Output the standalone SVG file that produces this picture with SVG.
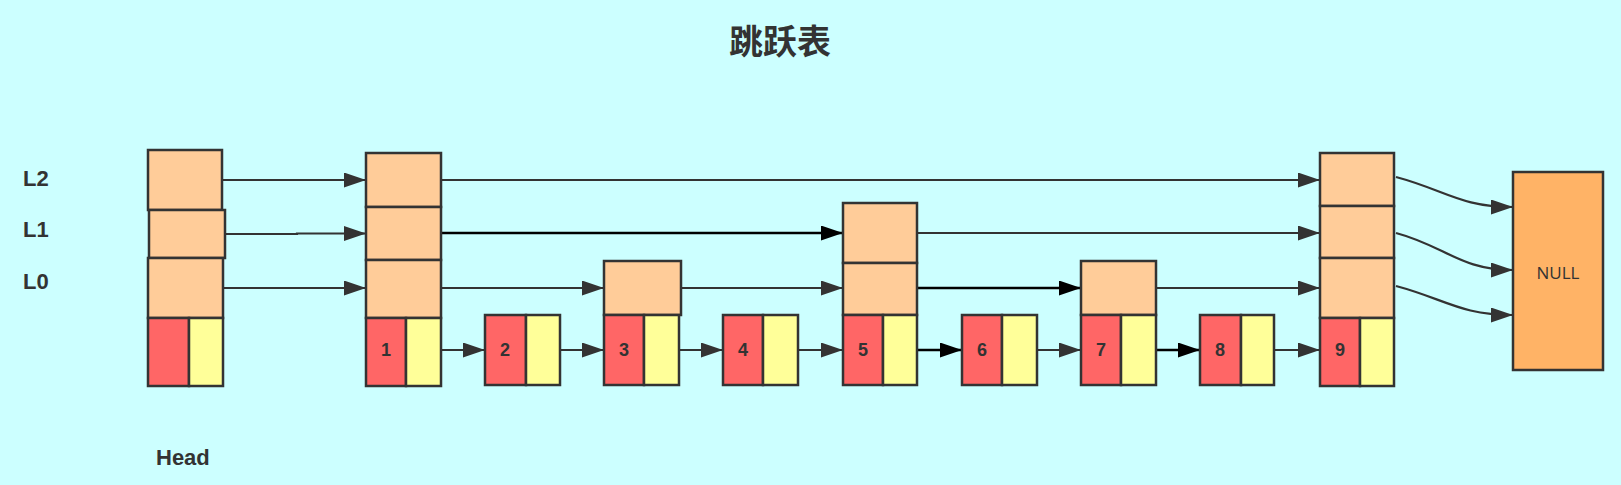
<svg xmlns="http://www.w3.org/2000/svg" width="1621" height="485" viewBox="0 0 1621 485">
<defs>
<style>
.lv{fill:#FFCC99;stroke:#333;stroke-width:2.5}
.k{fill:#FF6666;stroke:#333;stroke-width:2.5}
.v{fill:#FFFF99;stroke:#333;stroke-width:2.5}
.nul{fill:#FFB366;stroke:#333;stroke-width:2.5}
.num{font-family:"Liberation Sans",Arial,sans-serif;font-weight:bold;font-size:18px;fill:#333;text-anchor:middle}
.lbl{font-family:"Liberation Sans",Arial,sans-serif;font-weight:bold;font-size:22px;fill:#333}
.e{fill:none;stroke:#333;stroke-width:2.2;marker-end:url(#ag)}
.eb{fill:none;stroke:#000;stroke-width:2.4;marker-end:url(#ab)}
</style>
<marker id="ag" markerUnits="userSpaceOnUse" markerWidth="22" markerHeight="16" refX="22" refY="7.5" orient="auto">
<path d="M0,0 L22,7.5 L0,15 z" fill="#333"/>
</marker>
<marker id="ab" markerUnits="userSpaceOnUse" markerWidth="22" markerHeight="16" refX="22" refY="7.5" orient="auto">
<path d="M0,0 L22,7.5 L0,15 z" fill="#000"/>
</marker>
</defs>
<rect x="0" y="0" width="1621" height="485" fill="#CCFFFF"/>
<text x="780" y="54" font-family="'Noto Sans CJK SC',sans-serif" font-weight="bold" font-size="34" fill="#333" text-anchor="middle">跳跃表</text>
<g id="labels">
<text class="lbl" x="23" y="186">L2</text>
<text class="lbl" x="23" y="237">L1</text>
<text class="lbl" x="23" y="289">L0</text>
<text class="lbl" x="156" y="465">Head</text>
</g>
<g id="edges">
<path class="e" d="M222,180 H366"/>
<path class="e" d="M441,180 H1320"/>
<path class="e" d="M225,234 H297 V233.5 H366"/>
<path class="eb" d="M441,233 H843"/>
<path class="e" d="M917,233 H1320"/>
<path class="e" d="M223,288 H366"/>
<path class="e" d="M441,288 H604"/>
<path class="e" d="M681,288 H843"/>
<path class="eb" d="M917,288 H1081"/>
<path class="e" d="M1156,288 H1320"/>
<path class="e" d="M441,350 H485"/>
<path class="e" d="M560,350 H604"/>
<path class="e" d="M679,350 H723"/>
<path class="e" d="M798,350 H843"/>
<path class="eb" d="M917,350 H962"/>
<path class="e" d="M1037,350 H1081"/>
<path class="eb" d="M1156,350 H1200"/>
<path class="e" d="M1274,350 H1320"/>
<path class="e" d="M1396,177 C1445,190 1460,207 1513,207"/>
<path class="e" d="M1396,233 C1445,246 1460,270 1513,270"/>
<path class="e" d="M1396,286 C1445,299 1460,315 1513,315"/>
</g>
<g id="head">
<rect class="lv" x="148" y="150" width="74" height="60"/>
<rect class="lv" x="149" y="210" width="76" height="48"/>
<rect class="lv" x="148" y="258" width="75" height="60"/>
<rect class="k" x="148" y="318" width="41" height="68"/>
<rect class="v" x="189" y="318" width="34" height="68"/>
</g>
<g id="node1">
<rect class="lv" x="366" y="153" width="75" height="54"/>
<rect class="lv" x="366" y="207" width="75" height="53"/>
<rect class="lv" x="366" y="260" width="75" height="58"/>
<rect class="k" x="366" y="318" width="40" height="68"/>
<rect class="v" x="406" y="318" width="35" height="68"/>
<text class="num" x="386" y="356">1</text>
</g>
<g id="node2">
<rect class="k" x="485" y="315" width="41" height="70"/>
<rect class="v" x="526" y="315" width="34" height="70"/>
<text class="num" x="505" y="356">2</text>
</g>
<g id="node3">
<rect class="lv" x="604" y="261" width="77" height="54"/>
<rect class="k" x="604" y="315" width="40" height="70"/>
<rect class="v" x="644" y="315" width="35" height="70"/>
<text class="num" x="624" y="356">3</text>
</g>
<g id="node4">
<rect class="k" x="723" y="315" width="40" height="70"/>
<rect class="v" x="763" y="315" width="35" height="70"/>
<text class="num" x="743" y="356">4</text>
</g>
<g id="node5">
<rect class="lv" x="843" y="203" width="74" height="60"/>
<rect class="lv" x="843" y="263" width="74" height="52"/>
<rect class="k" x="843" y="315" width="40" height="70"/>
<rect class="v" x="883" y="315" width="34" height="70"/>
<text class="num" x="863" y="356">5</text>
</g>
<g id="node6">
<rect class="k" x="962" y="315" width="40" height="70"/>
<rect class="v" x="1002" y="315" width="35" height="70"/>
<text class="num" x="982" y="356">6</text>
</g>
<g id="node7">
<rect class="lv" x="1081" y="261" width="75" height="54"/>
<rect class="k" x="1081" y="315" width="40" height="70"/>
<rect class="v" x="1121" y="315" width="35" height="70"/>
<text class="num" x="1101" y="356">7</text>
</g>
<g id="node8">
<rect class="k" x="1200" y="315" width="41" height="70"/>
<rect class="v" x="1241" y="315" width="33" height="70"/>
<text class="num" x="1220" y="356">8</text>
</g>
<g id="node9">
<rect class="lv" x="1320" y="153" width="74" height="53"/>
<rect class="lv" x="1320" y="206" width="74" height="52"/>
<rect class="lv" x="1320" y="258" width="74" height="60"/>
<rect class="k" x="1320" y="318" width="40" height="68"/>
<rect class="v" x="1360" y="318" width="34" height="68"/>
<text class="num" x="1340" y="356">9</text>
</g>
<g id="null">
<rect class="nul" x="1513" y="172" width="90" height="198"/>
<text x="1558" y="279" font-family="'Open Sans','Liberation Sans',sans-serif" font-size="17" fill="#333" text-anchor="middle">NULL</text>
</g>
</svg>
